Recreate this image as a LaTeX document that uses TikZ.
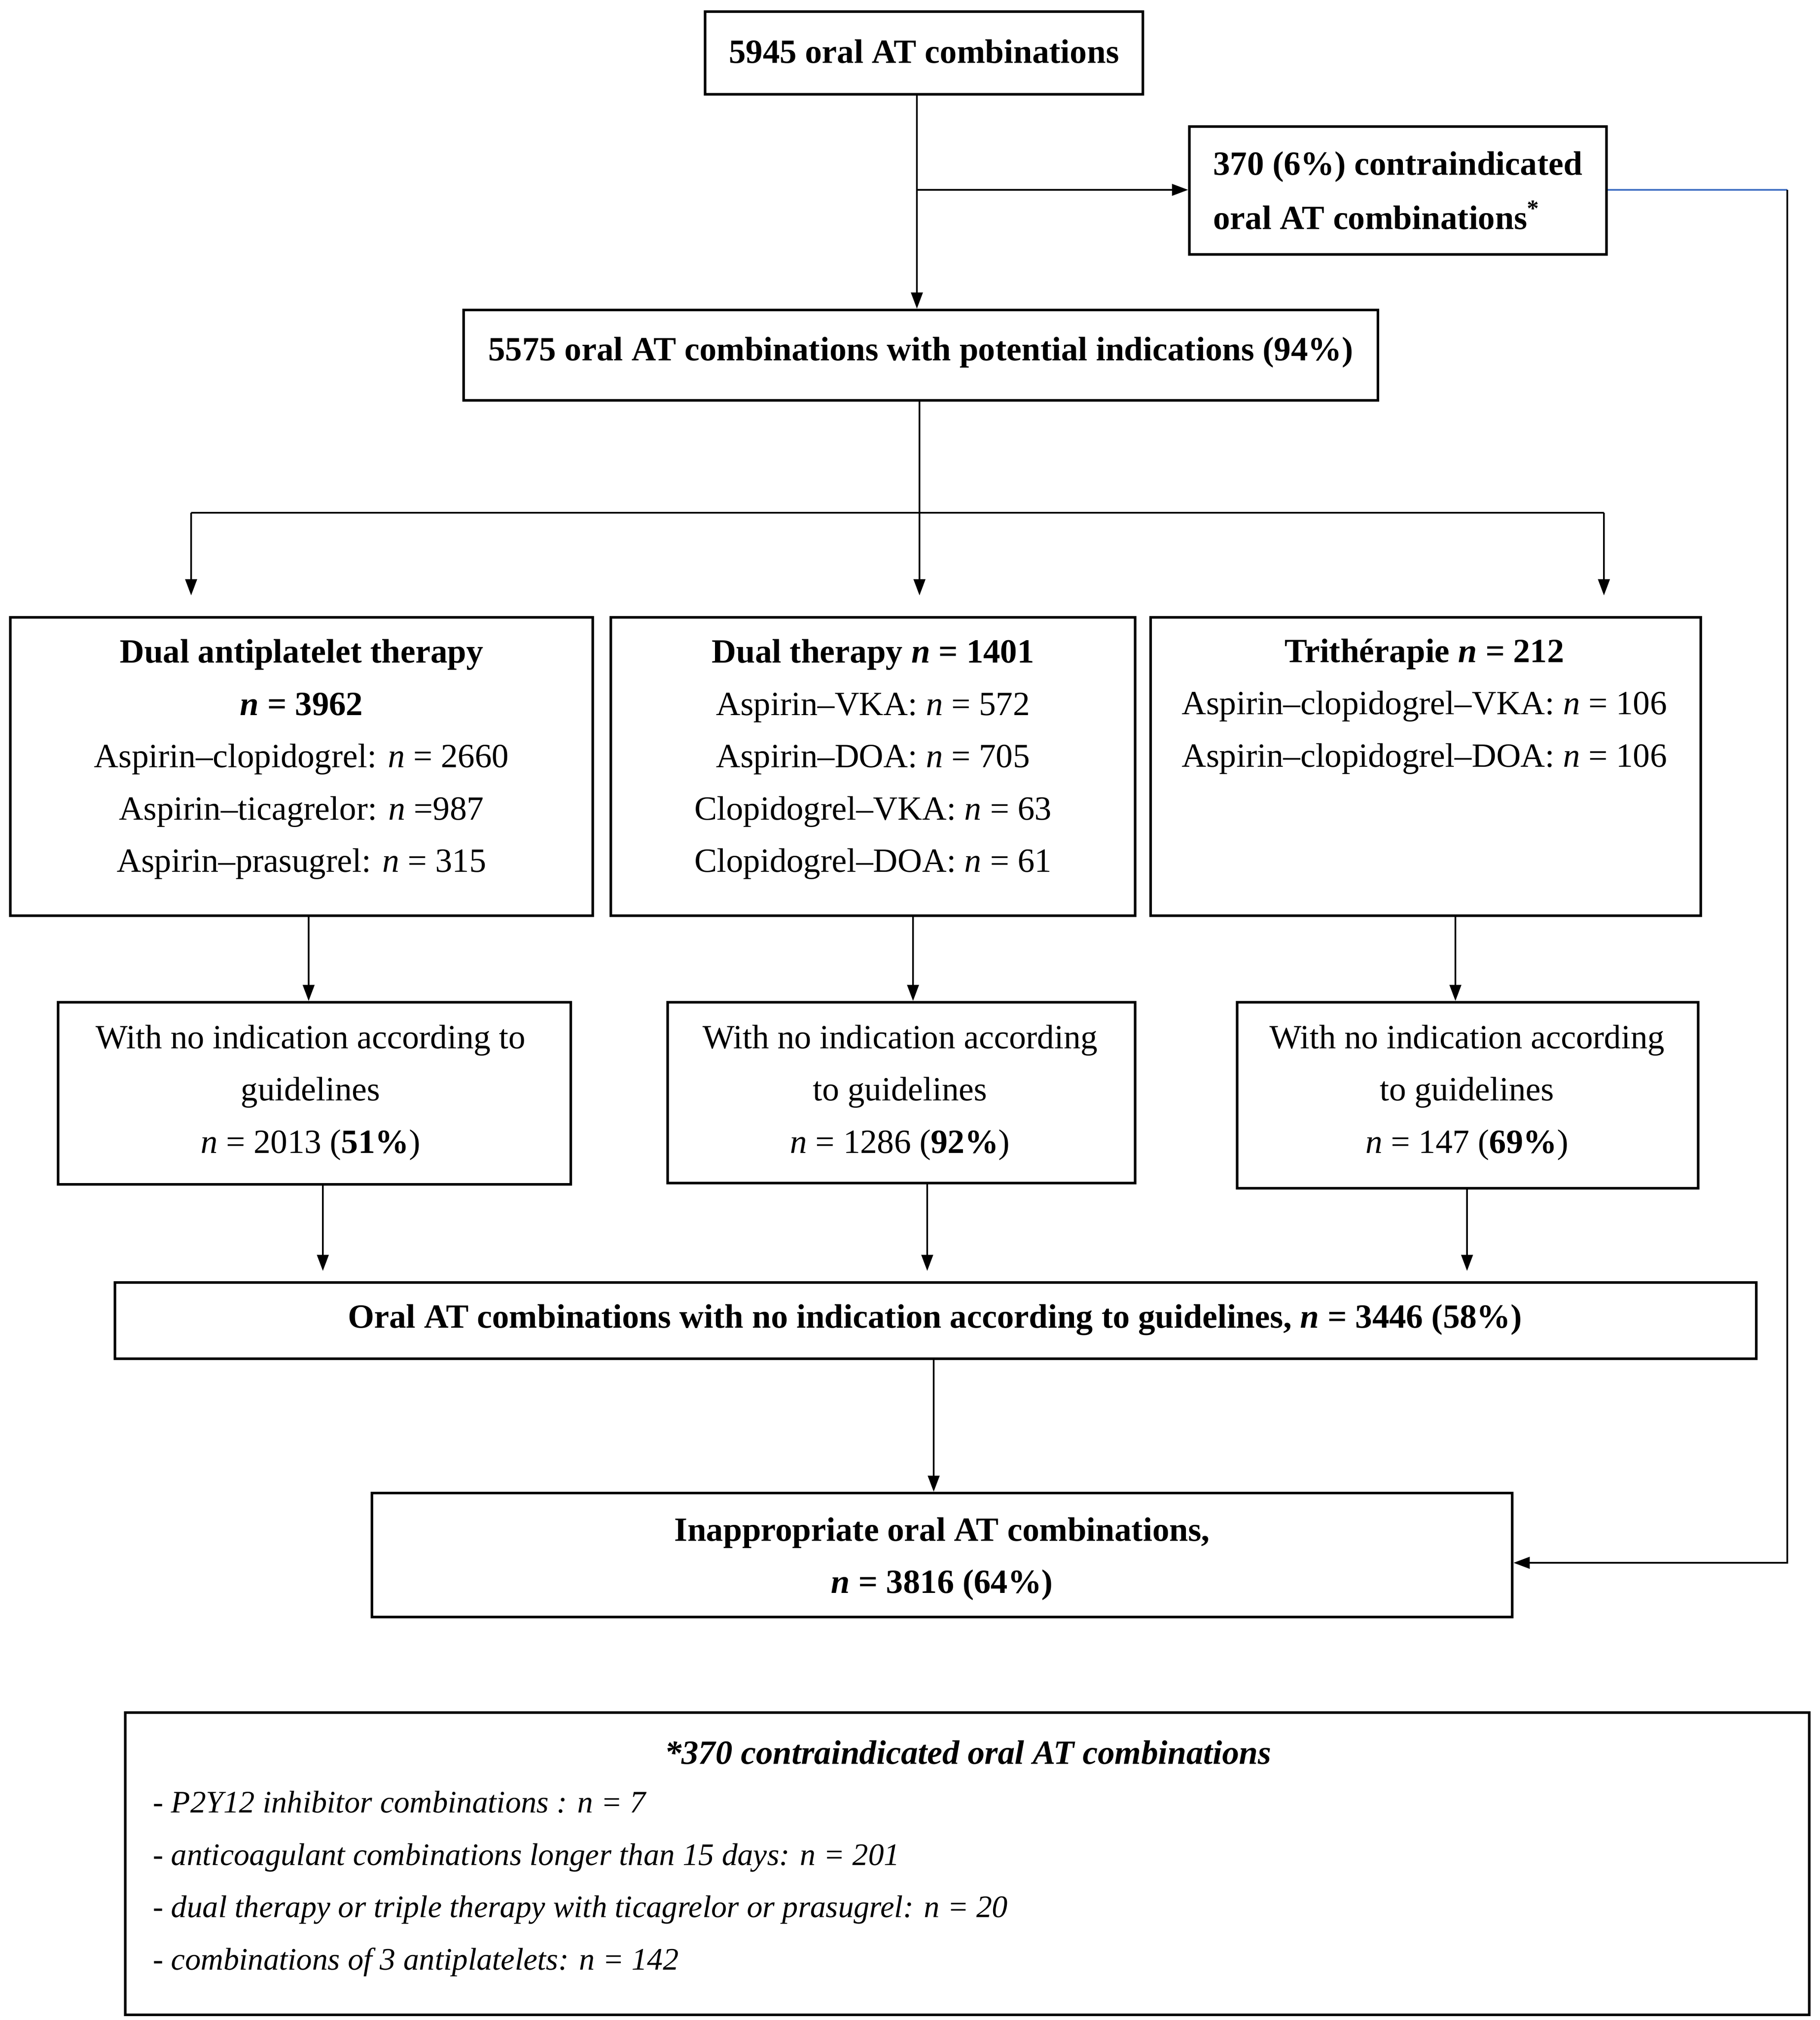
\documentclass[tikz,border=0pt]{standalone}
\usepackage{fontspec}
\setmainfont{Liberation Serif}
\usetikzlibrary{arrows.meta}
\definecolor{lineblue}{HTML}{4472C4}
\begin{document}
\begin{tikzpicture}[x=0.4pt,y=-0.4pt,
  box/.style={draw, line width=0.8pt, inner sep=0pt, rectangle},
  txt/.style={inner sep=0pt, align=center, font=\fontsize{10.5}{16.2}\selectfont},
  ltxt/.style={txt, align=left},
  conn/.style={line width=0.5pt},
  arr/.style={conn, -{Triangle[length=5pt,width=3.6pt]}}]
\useasboundingbox (0,0) rectangle (1409,1564);

% boxes
\node[box, minimum width=135.6pt, minimum height=25.6pt] (top) at (715.5,41) {};
\node[box, minimum width=129.2pt, minimum height=39.6pt] (contra) at (1082.5,147.5) {};
\node[box, minimum width=283.2pt, minimum height=28pt] (pot) at (713,275) {};
\node[box, minimum width=180.4pt, minimum height=92.4pt] (dapt) at (233.5,593.5) {};
\node[box, minimum width=162.4pt, minimum height=92.4pt] (dual) at (676,593.5) {};
\node[box, minimum width=170.4pt, minimum height=92.4pt] (tri) at (1104,593.5) {};
\node[box, minimum width=158.8pt, minimum height=56.4pt] (noind1) at (243.5,846.5) {};
\node[box, minimum width=144.8pt, minimum height=56pt] (noind2) at (698,846) {};
\node[box, minimum width=142.8pt, minimum height=57.6pt] (noind3) at (1136.5,848) {};
\node[box, minimum width=508.4pt, minimum height=23.6pt] (oral) at (724.5,1022.5) {};
\node[box, minimum width=353.2pt, minimum height=38.4pt] (inapp) at (729.5,1204) {};
\node[box, minimum width=521.6pt, minimum height=93.6pt] (legend) at (749,1443) {};

% texts
\node[txt] (topT) at (715.5,40) {\textbf{5945 oral AT combinations}};
\node[ltxt, anchor=west] (contraT) at (939,147.5) {\textbf{370 (6\%) contraindicated}\\[0.5pt]\textbf{oral AT combinations\textsuperscript{*}}};
\node[txt] (potT) at (713,273) {\textbf{5575 oral AT combinations with potential indications (94\%)}};
\node[txt] (daptT) at (233.5,588) {\textbf{Dual antiplatelet therapy}\\\textbf{\textit{n} = 3962}\\Aspirin–clopidogrel: \textit{n} = 2660\\Aspirin–ticagrelor: \textit{n} =987\\Aspirin–prasugrel: \textit{n} = 315};
\node[txt] (dualT) at (676,588) {\textbf{Dual therapy \textit{n} = 1401}\\Aspirin–VKA: \textit{n} = 572\\Aspirin–DOA: \textit{n} = 705\\Clopidogrel–VKA: \textit{n} = 63\\Clopidogrel–DOA: \textit{n} = 61};
\node[txt] (triT) at (1103,547) {\textbf{Trithérapie \textit{n} = 212}\\Aspirin–clopidogrel–VKA: \textit{n} = 106\\Aspirin–clopidogrel–DOA: \textit{n} = 106};
\node[txt] (noind1T) at (240.5,846) {With no indication according to\\guidelines\\\textit{n} = 2013 (\textbf{51\%})};
\node[txt] (noind2T) at (697,846) {With no indication according\\to guidelines\\\textit{n} = 1286 (\textbf{92\%})};
\node[txt] (noind3T) at (1136,846) {With no indication according\\to guidelines\\\textit{n} = 147 (\textbf{69\%})};
\node[txt] (oralT) at (724,1022) {\textbf{Oral AT combinations with no indication according to guidelines, \textit{n} = 3446 (58\%)}};
\node[txt] (inappT) at (729.5,1207) {\textbf{Inappropriate oral AT combinations,}\\\textbf{\textit{n} = 3816 (64\%)}};
\node[txt] (legT) at (749.5,1357) {\textbf{\textit{*370 contraindicated oral AT combinations}}};
\node[ltxt, anchor=west, font=\fontsize{9.7}{16.2}\selectfont\itshape] (legItems) at (118,1458.5) {- P2Y12 inhibitor combinations : n = 7\\- anticoagulant combinations longer than 15 days: n = 201\\- dual therapy or triple therapy with ticagrelor or prasugrel: n = 20\\- combinations of 3 antiplatelets: n = 142};

% connectors
\coordinate (j1) at (710,147);
\draw[conn] (top.south -| j1) -- (j1);
\draw[arr] (j1) -- (j1 |- pot.north);
\draw[arr] (j1) -- (contra.west |- j1);
\coordinate (c1) at (1384,147);
\coordinate (c2) at (1384,1210);
\draw[conn, lineblue] (contra.east |- c1) -- (c1);
\draw[arr] (c1) -- (c2) -- (inapp.east |- c2);

\coordinate (j2) at (712,397);
\coordinate (b1) at (148,397);
\coordinate (b3) at (1242,397);
\draw[conn] (pot.south -| j2) -- (j2);
\draw[conn] (b1) -- (b3);
\draw[arr, shorten >=6.4pt] (b1) -- (b1 |- dapt.north);
\draw[arr, shorten >=6.4pt] (j2) -- (j2 |- dual.north);
\draw[arr, shorten >=6.4pt] (b3) -- (b3 |- tri.north);

\coordinate (k1) at (239,0);
\coordinate (k2) at (707,0);
\coordinate (k3) at (1127,0);
\draw[arr] (dapt.south -| k1) -- (noind1.north -| k1);
\draw[arr] (dual.south -| k2) -- (noind2.north -| k2);
\draw[arr] (tri.south -| k3) -- (noind3.north -| k3);

\coordinate (m1) at (250,0);
\coordinate (m2) at (718,0);
\coordinate (m3) at (1136,0);
\draw[arr, shorten >=3.2pt] (noind1.south -| m1) -- (oral.north -| m1);
\draw[arr, shorten >=3.2pt] (noind2.south -| m2) -- (oral.north -| m2);
\draw[arr, shorten >=3.2pt] (noind3.south -| m3) -- (oral.north -| m3);

\coordinate (n1) at (723,0);
\draw[arr] (oral.south -| n1) -- (inapp.north -| n1);
\end{tikzpicture}
\end{document}
